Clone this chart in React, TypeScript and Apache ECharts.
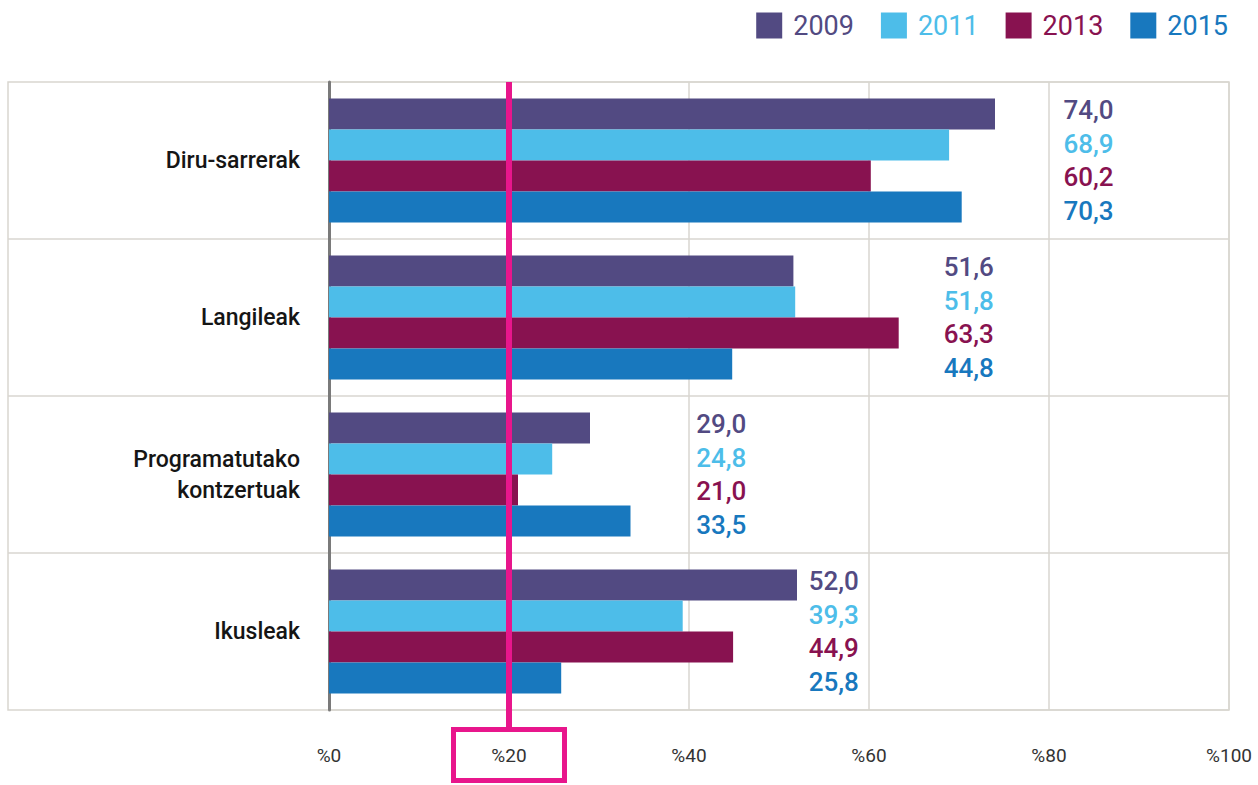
import { useEffect, useRef } from "react";
import * as echarts from "echarts";

const categories = ["Diru-sarrerak", "Langileak", "Programatutako\nkontzertuak", "Ikusleak"];
const years = ["2009", "2011", "2013", "2015"];
const colors = ["#524a82", "#4dbde9", "#881250", "#1878be"];
const values2009 = [74.0, 51.6, 29.0, 52.0];
const values2011 = [68.9, 51.8, 24.8, 39.3];
const values2013 = [60.2, 63.3, 21.0, 44.9];
const values2015 = [70.3, 44.8, 33.5, 25.8];
const seriesValues = [values2009, values2011, values2013, values2015];
// value-axis position (in %) where each category's value-label column starts
const labelAnchors = [81.6, 68.3, 40.8, 53.3];
const axisMin = 0;
const axisMax = 100;
const axisInterval = 20;
const highlightValue = 20;

const FONT = "Roboto, 'Liberation Sans', sans-serif";
const GRID_COLOR = "#d9d6d0";
const PINK = "#e8168c";

export default function App() {
  const ref = useRef<HTMLDivElement>(null);

  useEffect(() => {
    if (!ref.current) return;
    const chart = echarts.init(ref.current, undefined, { renderer: "svg" });

    const barSeries = years.map((y, i) => ({
      name: y,
      type: "bar",
      data: seriesValues[i],
      itemStyle: { color: colors[i] },
      barGap: "0%",
      barCategoryGap: "21%",
      silent: true,
      z: 2,
    }));

    const labelSeries = years.map((y, i) => ({
      name: "label-" + y,
      type: "custom",
      silent: true,
      z: 5,
      encode: { x: 0, y: 1 },
      data: categories.map((_, c) => [labelAnchors[c], c, seriesValues[i][c]]),
      renderItem: (params: any, api: any) => {
        const pt = api.coord([api.value(0), api.value(1)]);
        const band = api.size([0, 1])[1];
        const yy = pt[1] + (i - 1.5) * band * 0.215;
        return {
          type: "text",
          x: pt[0],
          y: yy,
          style: {
            text: Number(api.value(2)).toFixed(1).replace(".", ","),
            fill: colors[i],
            fontSize: 26,
            fontWeight: 500,
            fontFamily: FONT,
            align: "left",
            verticalAlign: "middle",
          },
        };
      },
    }));

    chart.setOption({
      animation: false,
      backgroundColor: "#ffffff",
      legend: {
        right: 30,
        top: 12,
        padding: 0,
        itemWidth: 26,
        itemHeight: 26,
        itemGap: 27,
        icon: "rect",
        selectedMode: false,
        data: years.map((y, i) => ({
          name: y,
          textStyle: { color: colors[i], fontSize: 27, fontFamily: FONT, padding: [0, 0, 0, 6] },
        })),
      },
      grid: { left: 329, top: 82, width: 900, height: 628, containLabel: false },
      xAxis: {
        type: "value",
        min: axisMin,
        max: axisMax,
        interval: axisInterval,
        axisLine: { show: false },
        axisTick: { show: false },
        splitLine: { show: true, lineStyle: { color: GRID_COLOR, width: 1.5 } },
        axisLabel: {
          formatter: "%{value}",
          fontSize: 19,
          color: "#333333",
          fontFamily: FONT,
          margin: 36,
        },
      },
      yAxis: {
        type: "category",
        inverse: true,
        data: categories,
        axisLine: { show: true, lineStyle: { color: "#7a7a7a", width: 3 } },
        axisTick: { show: false },
        splitLine: { show: true, lineStyle: { color: GRID_COLOR, width: 1.5 } },
        axisLabel: {
          fontSize: 23,
          fontWeight: 500,
          color: "#151515",
          fontFamily: FONT,
          margin: 29,
          lineHeight: 31,
          align: "right",
        },
      },
      series: [...barSeries, ...labelSeries],
    });

    // Decorations positioned from the chart's own scales
    const x0 = chart.convertToPixel({ xAxisIndex: 0 }, axisMin) as number;
    const xMax = chart.convertToPixel({ xAxisIndex: 0 }, axisMax) as number;
    const xHi = chart.convertToPixel({ xAxisIndex: 0 }, highlightValue) as number;
    const gridTop = 82;
    const gridBottom = 710;
    const leftEdge = 8;
    const band = (gridBottom - gridTop) / categories.length;
    const sepLines = categories.slice(1).map((_, k) => ({
      type: "line",
      silent: true,
      z: 0,
      shape: { x1: leftEdge, y1: gridTop + band * (k + 1), x2: x0, y2: gridTop + band * (k + 1) },
      style: { stroke: GRID_COLOR, lineWidth: 1.5 },
    }));

    chart.setOption({
      graphic: [
        {
          type: "rect",
          silent: true,
          z: 0,
          shape: { x: leftEdge, y: gridTop, width: xMax - leftEdge, height: gridBottom - gridTop },
          style: { fill: "none", stroke: GRID_COLOR, lineWidth: 1.5 },
        },
        ...sepLines,
        {
          type: "line",
          silent: true,
          z: 100,
          shape: { x1: xHi, y1: gridTop, x2: xHi, y2: 729 },
          style: { stroke: PINK, lineWidth: 6 },
        },
        {
          type: "rect",
          silent: true,
          z: 100,
          shape: { x: xHi - 55.5, y: 729.5, width: 111, height: 51 },
          style: { fill: "none", stroke: PINK, lineWidth: 5 },
        },
      ],
    });

    return () => chart.dispose();
  }, []);

  return (
    <div
      ref={ref}
      style={{ position: "absolute", left: 0, top: 0, width: 1258, height: 785, background: "#fff" }}
    />
  );
}
